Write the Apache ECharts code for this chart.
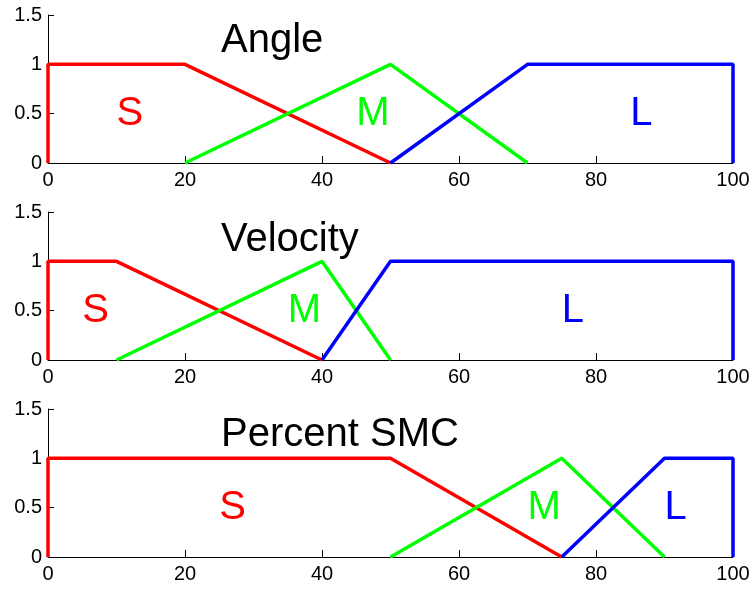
<!DOCTYPE html>
<html>
<head>
<meta charset="utf-8">
<script src="https://cdn.jsdelivr.net/npm/echarts@6/dist/echarts.min.js"></script>
<style>html,body{margin:0;padding:0;background:#fff}#c{width:754px;height:592px}</style>
</head>
<body>
<div id="c"></div>
<script>
// Panel titles
const titles = ['Angle', 'Velocity', 'Percent SMC'];
// Fuzzy set names
const setNames = ['S', 'M', 'L'];
const setColors = ['#ff0000', '#00ff00', '#0000ff'];
// Tick values
const xTickValues = [0, 20, 40, 60, 80, 100];
const yTickValues = [0, 0.5, 1, 1.5];

// Membership function vertices (x, membership)
const angleS = [[0, 0], [0, 1], [20, 1], [50, 0]];
const angleM = [[20, 0], [50, 1], [70, 0]];
const angleL = [[50, 0], [70, 1], [100, 1], [100, 0]];

const velocityS = [[0, 0], [0, 1], [10, 1], [40, 0]];
const velocityM = [[10, 0], [40, 1], [50, 0]];
const velocityL = [[40, 0], [50, 1], [100, 1], [100, 0]];

const smcS = [[0, 0], [0, 1], [50, 1], [75, 0]];
const smcM = [[50, 0], [75, 1], [90, 0]];
const smcL = [[75, 0], [90, 1], [100, 1], [100, 0]];

// Set label anchor positions (x), all at membership 0.5
const angleLabelX = [10, 45, 85];
const velocityLabelX = [5, 35, 75];
const smcLabelX = [25, 70, 90];
const labelY = 0.5;

const panels = [
  { sets: [angleS, angleM, angleL], labelX: angleLabelX },
  { sets: [velocityS, velocityM, velocityL], labelX: velocityLabelX },
  { sets: [smcS, smcM, smcL], labelX: smcLabelX }
];

const gridTops = [15, 212, 409];
const titleY = [41, 240, 435];
const FONT = '"Liberation Sans", Arial, Helvetica, sans-serif';

const grid = [], xAxis = [], yAxis = [], series = [], graphic = [];
panels.forEach((p, i) => {
  grid.push({ left: 48, right: 21, top: gridTops[i], height: 148 });
  xAxis.push({
    gridIndex: i, type: 'value', min: xTickValues[0], max: xTickValues[xTickValues.length - 1],
    interval: xTickValues[1] - xTickValues[0],
    axisLine: { show: true, onZero: false, lineStyle: { color: '#000', width: 1 } },
    axisTick: { show: true, inside: true, length: 7, lineStyle: { color: '#000' } },
    axisLabel: { color: '#000', fontSize: 20, fontFamily: FONT, margin: 7 },
    splitLine: { show: false }
  });
  yAxis.push({
    gridIndex: i, type: 'value', min: yTickValues[0], max: yTickValues[yTickValues.length - 1],
    interval: yTickValues[1] - yTickValues[0],
    axisLine: { show: true, onZero: false, lineStyle: { color: '#000', width: 1 } },
    axisTick: { show: true, inside: true, length: 6, lineStyle: { color: '#000' } },
    axisLabel: { color: '#000', fontSize: 20, fontFamily: FONT, margin: 6 },
    splitLine: { show: false }
  });
  p.sets.forEach((pts, k) => {
    series.push({
      type: 'line', xAxisIndex: i, yAxisIndex: i, data: pts, symbol: 'none',
      lineStyle: { color: setColors[k], width: 3.5 }, animation: false, z: 3 + k
    });
  });
  series.push({
    type: 'scatter', xAxisIndex: i, yAxisIndex: i, symbolSize: 0, animation: false, silent: true,
    itemStyle: { opacity: 1 },
    data: p.labelX.map((x, k) => ({
      value: [x, labelY],
      label: { show: true, position: 'right', distance: 0, formatter: setNames[k],
               color: setColors[k], opacity: 1, fontSize: 40, fontFamily: FONT }
    }))
  });
  graphic.push({
    type: 'text', left: 221, top: titleY[i] - 20,
    style: { text: titles[i], font: '40px ' + FONT, fill: '#000' }
  });
});

const chart = echarts.init(document.getElementById('c'), null, { renderer: 'canvas' });
chart.setOption({ animation: false, backgroundColor: '#fff', grid, xAxis, yAxis, series, graphic });
</script>
</body>
</html>
